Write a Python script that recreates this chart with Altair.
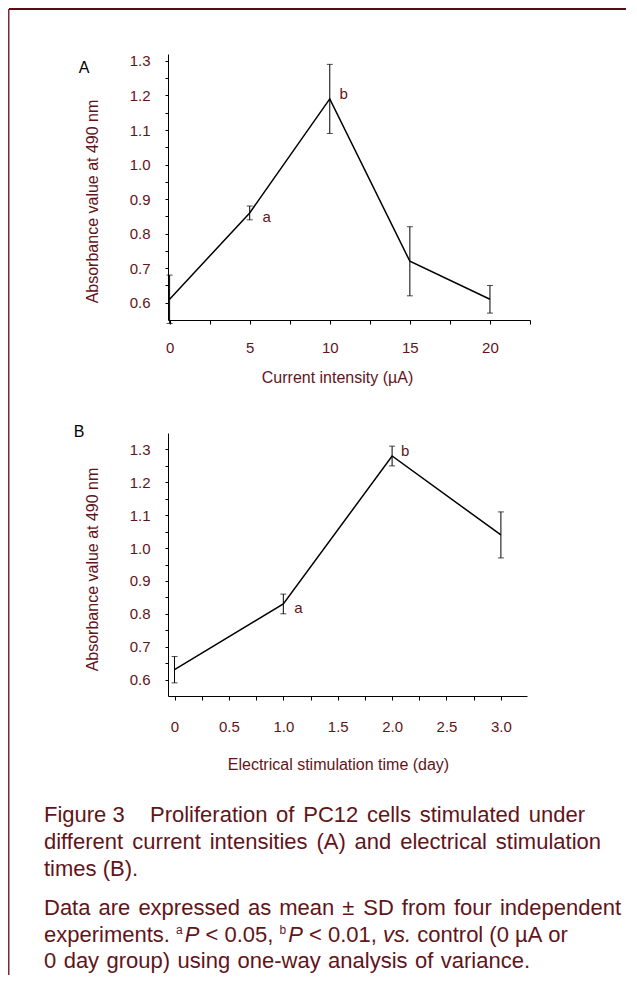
import altair as alt
import pandas as pd

# ---------------- data ----------------
# Panel A: current intensity (uA)
current_ua = [0, 5, 10, 15, 20]
absorb_a = [0.61, 0.86, 1.19, 0.72, 0.61]
sd_a = [0.07, 0.02, 0.10, 0.10, 0.04]
sig_a = ["", "a", "b", "", ""]

# Panel B: electrical stimulation time (day)
time_day = [0, 1, 2, 3]
absorb_b = [0.63, 0.83, 1.28, 1.04]
sd_b = [0.04, 0.03, 0.03, 0.07]
sig_b = ["", "a", "b", ""]

# axis tick values (major + minor)
y_ticks = [0.6, 0.65, 0.7, 0.75, 0.8, 0.85, 0.9, 0.95, 1.0, 1.05, 1.1, 1.15, 1.2, 1.25, 1.3]
xa_ticks = [0, 2.5, 5, 7.5, 10, 12.5, 15, 17.5, 20, 22.5]
xb_ticks = [0, 0.25, 0.5, 0.75, 1.0, 1.25, 1.5, 1.75, 2.0, 2.25, 2.5, 2.75, 3.0]

# ---------------- styles ----------------
FONT = "Liberation Sans"
TXT = "#621419"


def frame(x, y, sd, sig):
    df = pd.DataFrame({"x": x, "y": y, "sd": sd, "sig": sig})
    df["lo"] = df["y"] - df["sd"]
    df["hi"] = df["y"] + df["sd"]
    return df

df_a = frame(current_ua, absorb_a, sd_a, sig_a)
df_b = frame(time_day, absorb_b, sd_b, sig_b)
one = pd.DataFrame({"k": [0]})


def panel(df, xdef, yscale, yaxis, w, h, letter, letter_xy, sig_dx, extra=None):
    def Y(field):
        return alt.Y(field + ":Q", scale=yscale, axis=yaxis)
    base = alt.Chart(df)
    line = base.mark_line(color="black", strokeWidth=1.5).encode(x=xdef, y=Y("y"))
    err = base.mark_rule(color="black", strokeWidth=1).encode(x=xdef, y=Y("lo"), y2="hi:Q")
    cap_lo = base.mark_tick(orient="horizontal", size=6, thickness=1, color="black").encode(x=xdef, y=Y("lo"))
    cap_hi = base.mark_tick(orient="horizontal", size=6, thickness=1, color="black").encode(x=xdef, y=Y("hi"))
    sa = base.transform_filter("datum.sig == 'a'").mark_text(
        font=FONT, fontSize=15, color=TXT, align="center", baseline="middle",
        dx=sig_dx[0], dy=4).encode(x=xdef, y=Y("y"), text="sig:N")
    sb = base.transform_filter("datum.sig == 'b'").mark_text(
        font=FONT, fontSize=15, color=TXT, align="center", baseline="middle",
        dx=sig_dx[1], dy=-5).encode(x=xdef, y=Y("y"), text="sig:N")
    let = alt.Chart(pd.DataFrame({"t": [letter]})).mark_text(
        font=FONT, fontSize=16, color="black", align="center", baseline="middle"
    ).encode(text="t:N", x=alt.value(letter_xy[0]), y=alt.value(letter_xy[1]))
    layers = [line, err, cap_lo, cap_hi, sa, sb, let]
    if extra:
        layers += extra
    return alt.layer(*layers).properties(width=w, height=h)


def y_axis(title_y):
    return alt.Axis(
        values=y_ticks,
        labelExpr="round(datum.value*100) % 10 == 0 ? format(datum.value, '.1f') : ''",
        title="Absorbance value at 490 nm", tickSize=3, labelPadding=15,
        titleX=-76, titleY=title_y, titleAngle=-90, titleBaseline="middle", titleAlign="center",
        labelOverlap=False, labelFlush=False, labelBaseline="middle")

# ---- Panel A ----
xa = alt.X("x:Q", scale=alt.Scale(domain=[-0.1, 22.5], nice=False, zero=False),
           axis=alt.Axis(values=xa_ticks,
                         labelExpr="datum.value % 5 == 0 ? '' + datum.value : ''",
                         title="Current intensity (µA)", tickSize=4, labelPadding=16,
                         titleX=169, titleY=57, titleBaseline="middle", titleAlign="center",
                         labelFlush=False, labelOverlap=False))
ys_a = alt.Scale(domain=[0.55, 1.32], nice=False, zero=False)

# page frame (top and left rules), drawn relative to panel A plot origin (168, 54)
top_rule = alt.Chart(one).mark_rule(color="#5c0a14", strokeWidth=2).encode(
    x=alt.value(-159), x2=alt.value(458), y=alt.value(-45))
left_rule = alt.Chart(one).mark_rule(color="#7b2a35", strokeWidth=1.5).encode(
    x=alt.value(-159.25), y=alt.value(-45), y2=alt.value(921))

panel_a = panel(df_a, xa, ys_a, y_axis(147), 362, 266, "A", (-84, 14), (17, 14),
                extra=[top_rule, left_rule])

# ---- Panel B ----
xb = alt.X("x:Q", scale=alt.Scale(domain=[-0.06, 3.24], nice=False, zero=False),
           axis=alt.Axis(values=xb_ticks,
                         labelExpr="round(datum.value*4) % 2 == 0 ? (datum.value == 0 ? '0' : format(datum.value, '.1f')) : ''",
                         title="Electrical stimulation time (day)", tickSize=4, labelPadding=19,
                         titleX=170, titleY=68, titleBaseline="middle", titleAlign="center",
                         labelFlush=False, labelOverlap=False))
ys_b = alt.Scale(domain=[0.55, 1.35], nice=False, zero=False)
panel_b = panel(df_b, xb, ys_b, y_axis(136), 359, 263, "B", (-89, -1), (15, 13))

# ---------------- caption ----------------
CHAR_W = {'F': 611, 'i': 222, 'g': 556, 'u': 556, 'r': 333, 'e': 556, ' ': 278, '3': 556,
          'P': 667, 'o': 556, 'l': 222, 'f': 278, 'a': 556, 't': 278, 'n': 556, 'C': 722,
          '1': 556, '2': 556, 'c': 500, 's': 500, 'm': 833, 'd': 556, '(': 333, ')': 333,
          'A': 667, 'B': 667, '.': 278, 'D': 722, 'x': 500, 'p': 556, '±': 584, 'S': 667,
          '<': 584, '0': 556, '5': 556, ',': 278, 'b': 556, 'v': 500, 'µ': 563, 'y': 500,
          'w': 722, '-': 333, 'h': 556}
CAP = 22
SUP = 12
SUP_RAISE = 8
SUP_GAP = 2.0


def tw(s, size):
    return sum(CHAR_W.get(c, 556) for c in s) * size / 1000.0


def words(s):
    return [(w, "n", 1) for w in s.split(" ")]

# token: (text, style, gap_before) ; gap 1 = stretchable space, 0 = none, 2 = small fixed gap
caption_lines = [
    (44, None, 822, [("Figure", "n", 0), ("3", "n", 1)]),
    (150, 585, 822, words("Proliferation of PC12 cells stimulated under")),
    (44, 601, 849, words("different current intensities (A) and electrical stimulation")),
    (44, None, 875.7, words("times (B).")),
    (44, 621, 915, words("Data are expressed as mean ± SD from four independent")),
    (44, None, 941.7, [("experiments.", "n", 0), ("a", "s", 1), ("P", "i", 2),
                       ("<", "n", 1), ("0.05,", "n", 1), ("b", "s", 1), ("P", "i", 2),
                       ("<", "n", 1), ("0.01,", "n", 1), ("vs.", "i", 1),
                       ("control", "n", 1), ("(0", "n", 1), ("µA", "n", 1), ("or", "n", 1)]),
    (44, 530, 968.3, words("0 day group) using one-way analysis of variance.")),
]

OX, OY = 168, 809  # caption view origin on the page
rows = []
for x0, x1, base_y, toks in caption_lines:
    toks = [(t, st, g if i > 0 else 0) for i, (t, st, g) in enumerate(toks)]
    sizes = [SUP if st == "s" else CAP for _, st, _ in toks]
    widths = [tw(t, sz) for (t, _, _), sz in zip(toks, sizes)]
    space = tw(" ", CAP)
    nsp = sum(1 for _, _, g in toks if g == 1)
    fixed = sum(SUP_GAP for _, _, g in toks if g == 2)
    natural = sum(widths) + nsp * space + fixed
    gap = space
    if x1 is not None and nsp > 0:
        gap += (x1 - x0 - natural) / nsp
    x = x0
    for (t, st, g), wdt, sz in zip(toks, widths, sizes):
        if g == 1:
            x += gap
        elif g == 2:
            x += SUP_GAP
        yy = base_y - SUP_RAISE if st == "s" else base_y
        rows.append({"text": t, "px": x - OX, "py": yy - OY, "size": sz,
                     "style": "italic" if st == "i" else "normal"})
        x += wdt
cap_df = pd.DataFrame(rows)

cap_base = alt.Chart(cap_df)
cap_enc = dict(x=alt.X("px:Q", scale=None, axis=None), y=alt.Y("py:Q", scale=None, axis=None),
               text="text:N", size=alt.Size("size:Q", scale=None, legend=None))
cap_normal = cap_base.transform_filter("datum.style == 'normal'").mark_text(
    font=FONT, color=TXT, align="left", baseline="alphabetic").encode(**cap_enc)
cap_italic = cap_base.transform_filter("datum.style == 'italic'").mark_text(
    font=FONT, color=TXT, align="left", baseline="alphabetic", fontStyle="italic").encode(**cap_enc)
caption = alt.layer(cap_normal, cap_italic).properties(width=1, height=1)

chart = alt.vconcat(panel_a, panel_b, caption, spacing=113, bounds="flush", padding=0).configure_view(
    strokeWidth=0
).configure_axis(
    labelFont=FONT, titleFont=FONT, labelColor=TXT, titleColor=TXT,
    labelFontSize=15, titleFontSize=16, titleFontWeight="normal",
    domainColor="black", tickColor="black", domainWidth=1, tickWidth=1, grid=False
)

chart.save("out.html", embed_options={"renderer": "svg", "actions": False})
